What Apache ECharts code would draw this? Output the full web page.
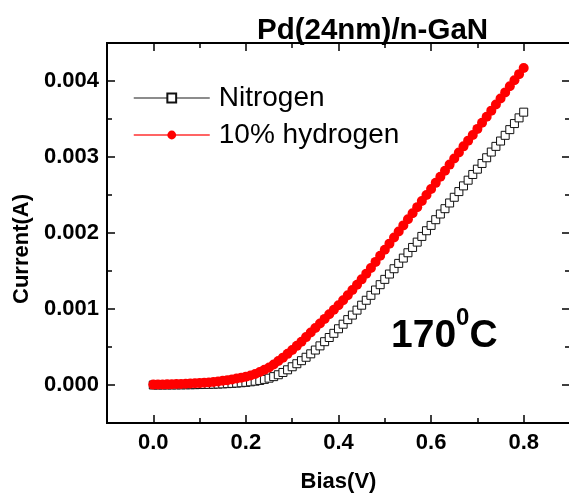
<!DOCTYPE html>
<html>
<head>
<meta charset="utf-8">
<script src="https://cdn.jsdelivr.net/npm/echarts@6/dist/echarts.min.js"></script>
<style>
  html, body { margin: 0; padding: 0; background: #fff; }
  #chart { width: 569px; height: 494px; }
</style>
</head>
<body>
<div id="chart"></div>
<script>
// bias (V), 10 mV steps
const bias = [
  0.00, 0.01, 0.02, 0.03, 0.04, 0.05, 0.06, 0.07, 0.08, 0.09,
  0.10, 0.11, 0.12, 0.13, 0.14, 0.15, 0.16, 0.17, 0.18, 0.19,
  0.20, 0.21, 0.22, 0.23, 0.24, 0.25, 0.26, 0.27, 0.28, 0.29,
  0.30, 0.31, 0.32, 0.33, 0.34, 0.35, 0.36, 0.37, 0.38, 0.39,
  0.40, 0.41, 0.42, 0.43, 0.44, 0.45, 0.46, 0.47, 0.48, 0.49,
  0.50, 0.51, 0.52, 0.53, 0.54, 0.55, 0.56, 0.57, 0.58, 0.59,
  0.60, 0.61, 0.62, 0.63, 0.64, 0.65, 0.66, 0.67, 0.68, 0.69,
  0.70, 0.71, 0.72, 0.73, 0.74, 0.75, 0.76, 0.77, 0.78, 0.79,
  0.80
];
// current (A) in nitrogen
const nitrogenCurrent = [
  0, 0.02e-5, 0.05e-5, 0.08e-5, 0.12e-5, 0.16e-5, 0.22e-5, 0.29e-5, 0.37e-5, 0.47e-5,
  0.6e-5, 0.72e-5, 0.86e-5, 1.05e-5, 1.25e-5, 1.5e-5, 1.8e-5, 2.1e-5, 2.5e-5, 3.0e-5,
  3.5e-5, 4.2e-5, 5.0e-5, 6.0e-5, 7.4e-5, 9e-5, 11e-5, 13.5e-5, 16.5e-5, 20e-5,
  24e-5, 28e-5, 32e-5, 36.5e-5, 41e-5, 46e-5, 51.5e-5, 57e-5, 62.5e-5, 68e-5,
  74e-5, 80e-5, 86e-5, 92e-5, 98.5e-5, 105e-5, 111.5e-5, 118e-5, 125e-5, 132e-5,
  139e-5, 146e-5, 153e-5, 160e-5, 167e-5, 174e-5, 181e-5, 188e-5, 195.5e-5, 203e-5,
  210e-5, 217.5e-5, 225e-5, 232e-5, 239.5e-5, 247e-5, 254.5e-5, 262e-5, 269.5e-5, 277e-5,
  284e-5, 291.5e-5, 299e-5, 306.5e-5, 314e-5, 321e-5, 328.5e-5, 336e-5, 344e-5, 351.5e-5,
  359e-5
];
// current (A) in 10% hydrogen
const hydrogenCurrent = [
  0.5e-5, 0.6e-5, 0.7e-5, 0.85e-5, 1.0e-5, 1.2e-5, 1.4e-5, 1.6e-5, 1.9e-5, 2.2e-5,
  2.5e-5, 2.9e-5, 3.4e-5, 4.0e-5, 4.7e-5, 5.5e-5, 6.4e-5, 7.4e-5, 8.5e-5, 9.7e-5,
  11e-5, 12.6e-5, 14.5e-5, 17e-5, 20e-5, 23e-5, 27e-5, 31.5e-5, 36e-5, 41e-5,
  46e-5, 51.5e-5, 57e-5, 63e-5, 69e-5, 75e-5, 81e-5, 87e-5, 93e-5, 99e-5,
  105e-5, 111.5e-5, 118e-5, 125e-5, 132e-5, 139e-5, 146.5e-5, 154e-5, 162e-5, 170e-5,
  178e-5, 186e-5, 194e-5, 202e-5, 210e-5, 218e-5, 226e-5, 234e-5, 242e-5, 250e-5,
  258e-5, 266e-5, 274e-5, 282e-5, 290e-5, 298e-5, 306e-5, 314e-5, 321.5e-5, 329e-5,
  337e-5, 345e-5, 353e-5, 361e-5, 369e-5, 377e-5, 385e-5, 393e-5, 401e-5, 409e-5,
  417e-5
];
const xMajorTicks = [0, 0.2, 0.4, 0.6, 0.8];
const xMinorTicks = [0.1, 0.3, 0.5, 0.7];
const yMajorTicks = [0, 0.001, 0.002, 0.003, 0.004];
const yMinorTicks = [0.0005, 0.0015, 0.0025, 0.0035];

const FONT = '"Liberation Sans", Arial, Helvetica, sans-serif';
const chart = echarts.init(document.getElementById('chart'));

// one frame side: ticks inside, labels optional
function frameAxis(position, min, max, ticks, len, labels, extra) {
  return Object.assign({
    type: 'value',
    position: position,
    min: min,
    max: max,
    axisLine: { show: true, onZero: false, lineStyle: { color: '#000', width: 2 } },
    axisTick: { show: true, inside: true, length: len, customValues: ticks, lineStyle: { color: '#000', width: 1.5 } },
    axisLabel: labels ? Object.assign({ customValues: ticks }, labels) : { show: false },
    splitLine: { show: false }
  }, extra || {});
}

const xLabel = {
  fontFamily: FONT, fontSize: 22, fontWeight: 'bold', color: '#000', margin: 9,
  formatter: v => v.toFixed(1)
};
const yLabel = {
  fontFamily: FONT, fontSize: 22, fontWeight: 'bold', color: '#000', margin: 8,
  formatter: v => v.toFixed(3)
};

const option = {
  animation: false,
  title: {
    text: 'Pd(24nm)/n-GaN',
    left: 257,
    top: 16,
    padding: 0,
    textStyle: { fontFamily: FONT, fontSize: 29.5, fontWeight: 'bold', color: '#000' }
  },
  grid: { left: 107, right: -1, top: 43, bottom: 71, outerBoundsMode: 'none' },
  legend: {
    orient: 'vertical',
    left: 133,
    top: 84,
    padding: 0,
    itemWidth: 76,
    itemHeight: 11,
    itemGap: 9,
    textStyle: { fontFamily: FONT, fontSize: 28, color: '#000', padding: [0, 0, 0, 4] },
    data: [
      { name: 'Nitrogen', lineStyle: { color: '#666', width: 1.5 } },
      { name: '10% hydrogen', lineStyle: { color: '#ff3030', width: 1.5 } }
    ]
  },
  xAxis: [
    frameAxis('bottom', -0.1, 0.9, xMajorTicks, 8, xLabel, {
      name: 'Bias(V)', nameLocation: 'middle', nameGap: 48,
      nameTextStyle: { fontFamily: FONT, fontSize: 22, fontWeight: 'bold', color: '#000' }
    }),
    frameAxis('bottom', -0.1, 0.9, xMinorTicks, 5, null),
    frameAxis('top', -0.1, 0.9, xMajorTicks, 8, null),
    frameAxis('top', -0.1, 0.9, xMinorTicks, 5, null)
  ],
  yAxis: [
    frameAxis('left', -0.0005, 0.0045, yMajorTicks, 8, yLabel, {
      name: 'Current(A)', nameLocation: 'middle', nameGap: 74,
      nameTextStyle: { fontFamily: FONT, fontSize: 22, fontWeight: 'bold', color: '#000', padding: [0, 32, 0, 0] }
    }),
    frameAxis('left', -0.0005, 0.0045, yMinorTicks, 5, null),
    frameAxis('right', -0.0005, 0.0045, yMajorTicks, 8, null),
    frameAxis('right', -0.0005, 0.0045, yMinorTicks, 5, null)
  ],
  series: [
    {
      name: 'Nitrogen',
      type: 'line',
      data: bias.map((b, i) => [b, nitrogenCurrent[i]]),
      symbol: 'rect',
      symbolSize: 8,
      itemStyle: { color: '#fff', borderColor: '#111', borderWidth: 1 },
      lineStyle: { color: '#333', width: 1 },
      z: 2
    },
    {
      name: '10% hydrogen',
      type: 'line',
      data: bias.map((b, i) => [b, hydrogenCurrent[i]]),
      symbol: 'circle',
      symbolSize: 10,
      itemStyle: { color: '#ff0000' },
      lineStyle: { color: '#ff0000', width: 1 },
      z: 3
    }
  ],
  graphic: [
    {
      type: 'text',
      x: 391,
      y: 356,
      style: {
        text: '{m|170}{s|0}{m|C}',
        verticalAlign: 'bottom',
        rich: {
          m: { fontFamily: FONT, fontSize: 39, fontWeight: 'bold', fill: '#000', verticalAlign: 'bottom' },
          s: { fontFamily: FONT, fontSize: 24, fontWeight: 'bold', fill: '#000', verticalAlign: 'top', padding: [0, 0, 26, 0] }
        }
      }
    }
  ]
};

chart.setOption(option);
</script>
</body>
</html>
